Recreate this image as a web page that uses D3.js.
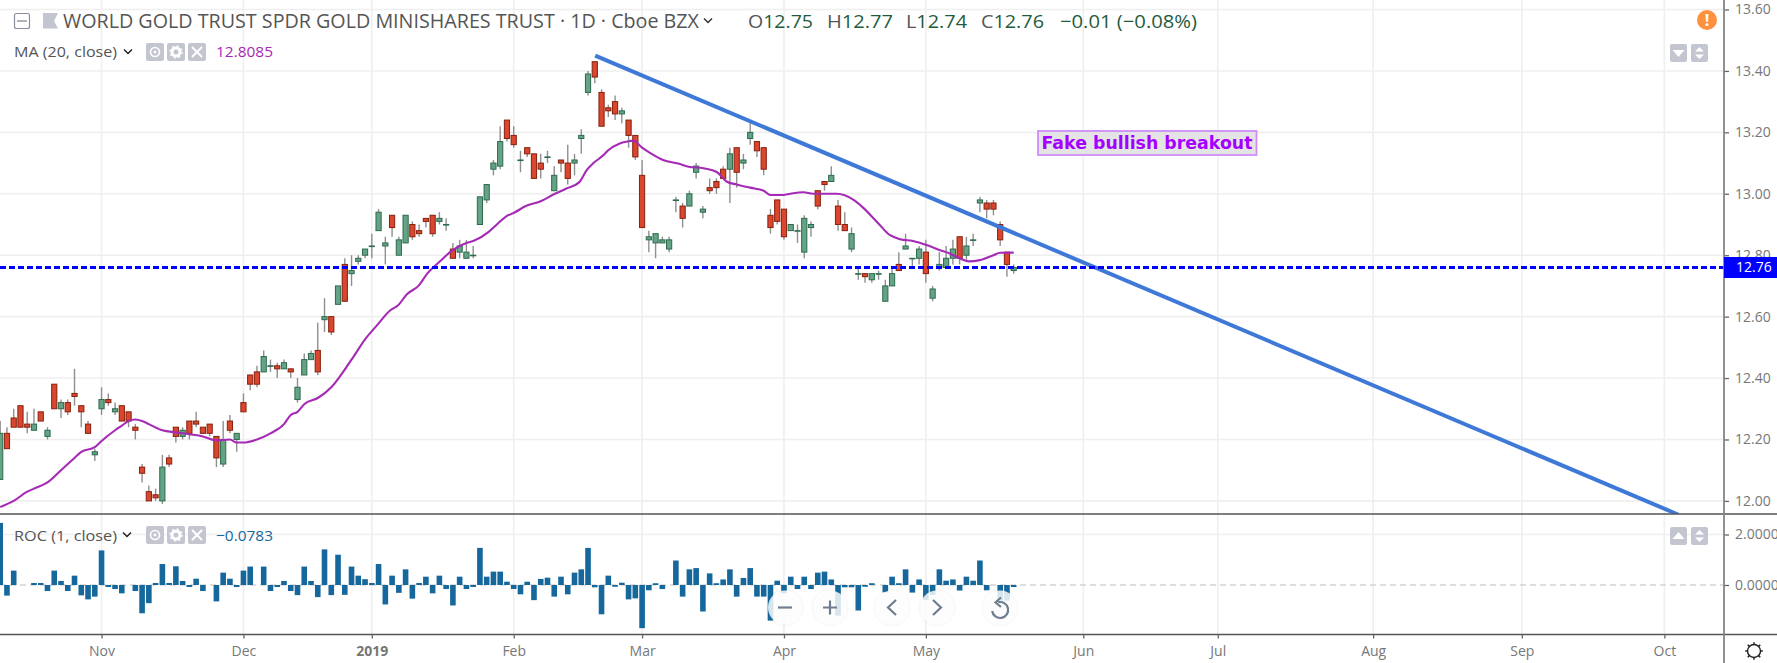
<!DOCTYPE html>
<html><head><meta charset="utf-8">
<script src="https://cdn.jsdelivr.net/npm/d3@7/dist/d3.min.js"></script>
<style>html,body{margin:0;background:#fff;overflow:hidden}svg{display:block}text{font-family:"Open Sans",sans-serif}</style>
</head><body><svg id="c" width="1777" height="663"></svg>
<script>
const opens=[12.07,12.22,12.27,12.31,12.25,12.23,12.29,12.21,12.38,12.30,12.32,12.35,12.31,12.25,12.15,12.30,12.33,12.29,12.31,12.29,12.24,12.11,12.03,12.02,12.00,12.14,12.24,12.21,12.26,12.26,12.24,12.25,12.21,12.12,12.26,12.20,12.32,12.41,12.42,12.42,12.44,12.44,12.43,12.43,12.33,12.41,12.46,12.49,12.59,12.60,12.64,12.77,12.74,12.78,12.80,12.83,12.88,12.83,12.93,12.80,12.84,12.90,12.88,12.92,12.93,12.91,12.90,12.82,12.81,12.79,12.80,12.90,12.98,13.08,13.09,13.24,13.19,13.11,13.15,13.13,13.10,13.12,13.01,13.11,13.10,13.10,13.18,13.33,13.43,13.33,13.28,13.30,13.26,13.24,13.19,13.06,12.85,12.84,12.84,12.82,12.98,12.96,12.96,13.07,12.94,13.02,13.04,13.08,13.08,13.15,13.10,13.18,13.17,13.15,12.93,12.98,12.95,12.88,12.88,12.81,12.89,13.01,13.04,13.04,12.96,12.90,12.82,12.74,12.74,12.72,12.74,12.65,12.70,12.77,12.82,12.79,12.79,12.81,12.66,12.76,12.76,12.79,12.86,12.80,12.85,12.97,12.97,12.97,12.90,12.81,12.75];
const highs=[12.26,12.24,12.30,12.31,12.29,12.30,12.29,12.24,12.38,12.33,12.33,12.43,12.31,12.26,12.17,12.37,12.35,12.32,12.31,12.29,12.25,12.12,12.05,12.04,12.15,12.15,12.24,12.24,12.26,12.29,12.24,12.25,12.21,12.26,12.28,12.22,12.35,12.41,12.44,12.49,12.46,12.45,12.46,12.43,12.40,12.48,12.49,12.58,12.66,12.60,12.70,12.79,12.80,12.80,12.82,12.87,12.95,12.86,12.93,12.86,12.93,12.91,12.90,12.92,12.93,12.94,12.92,12.84,12.85,12.85,12.83,12.99,13.03,13.11,13.22,13.24,13.22,13.14,13.15,13.13,13.13,13.14,13.09,13.11,13.16,13.13,13.21,13.40,13.43,13.34,13.29,13.32,13.28,13.24,13.19,13.11,12.88,12.87,12.86,12.86,12.99,12.97,13.01,13.10,12.96,13.05,13.05,13.09,13.15,13.15,13.13,13.23,13.17,13.15,12.95,12.98,12.95,12.90,12.90,12.93,12.91,13.01,13.04,13.09,12.98,12.94,12.89,12.76,12.74,12.74,12.75,12.72,12.76,12.81,12.87,12.79,12.83,12.85,12.70,12.81,12.83,12.85,12.86,12.86,12.87,12.99,12.98,12.98,12.91,12.81,12.77];
const lows=[12.07,12.17,12.24,12.24,12.22,12.23,12.26,12.20,12.30,12.27,12.28,12.31,12.24,12.22,12.13,12.28,12.31,12.28,12.26,12.24,12.20,12.06,12.00,12.00,11.99,12.11,12.19,12.20,12.20,12.24,12.22,12.21,12.11,12.11,12.22,12.16,12.29,12.36,12.37,12.42,12.42,12.40,12.43,12.40,12.32,12.41,12.46,12.41,12.55,12.54,12.64,12.65,12.70,12.77,12.79,12.79,12.88,12.77,12.86,12.80,12.84,12.85,12.86,12.89,12.86,12.90,12.88,12.79,12.79,12.79,12.79,12.90,12.97,13.06,13.08,13.17,13.15,13.07,13.12,13.05,13.05,13.10,13.01,13.07,13.03,13.06,13.13,13.32,13.36,13.22,13.25,13.24,13.23,13.15,13.11,12.89,12.81,12.79,12.84,12.81,12.94,12.89,12.96,13.05,12.92,13.00,13.00,13.05,12.97,13.02,13.08,13.16,13.12,13.06,12.87,12.90,12.85,12.88,12.84,12.79,12.86,12.95,13.01,13.04,12.88,12.88,12.81,12.72,12.71,12.71,12.72,12.65,12.70,12.75,12.82,12.76,12.77,12.71,12.65,12.75,12.76,12.77,12.77,12.78,12.83,12.94,12.92,12.93,12.83,12.73,12.74];
const closes=[12.22,12.17,12.24,12.24,12.24,12.25,12.26,12.23,12.30,12.32,12.29,12.34,12.29,12.22,12.16,12.33,12.32,12.30,12.26,12.26,12.23,12.09,12.00,12.01,12.11,12.12,12.21,12.23,12.22,12.25,12.22,12.22,12.14,12.20,12.23,12.22,12.29,12.38,12.38,12.47,12.44,12.43,12.45,12.42,12.37,12.46,12.48,12.42,12.60,12.55,12.70,12.65,12.75,12.79,12.82,12.83,12.94,12.84,12.89,12.85,12.93,12.86,12.87,12.91,12.87,12.92,12.90,12.79,12.83,12.81,12.80,12.99,13.03,13.10,13.17,13.18,13.16,13.11,13.13,13.05,13.08,13.12,13.06,13.10,13.05,13.11,13.19,13.39,13.38,13.22,13.27,13.26,13.27,13.19,13.12,12.89,12.86,12.87,12.85,12.85,12.98,12.92,13.00,13.09,12.95,13.01,13.02,13.05,13.13,13.07,13.11,13.20,13.14,13.08,12.89,12.91,12.86,12.90,12.88,12.92,12.90,12.96,13.03,13.06,12.90,12.88,12.87,12.74,12.73,12.74,12.74,12.70,12.74,12.75,12.83,12.79,12.82,12.74,12.69,12.77,12.79,12.82,12.79,12.83,12.85,12.98,12.95,12.95,12.85,12.77,12.76];
const rocValues=[2.46,-0.42,0.57,0,0,0.08,0.08,-0.24,0.57,0.16,-0.24,0.37,-0.41,-0.57,-0.46,1.37,-0.08,-0.16,-0.33,0,-0.24,-1.12,-0.72,0.08,0.83,0.08,0.74,0.16,-0.08,0.25,-0.24,0,-0.65,0.49,0.25,-0.08,0.57,0.73,0,0.73,-0.24,-0.08,0.16,-0.24,-0.40,0.73,0.16,-0.48,1.41,-0.40,1.2,-0.39,0.73,0.37,0.23,0.08,0.83,-0.77,0.37,-0.31,0.62,-0.54,0.08,0.33,-0.33,0.37,-0.16,-0.81,0.33,-0.16,-0.08,1.47,0.33,0.53,0.53,0.13,-0.16,-0.37,0.13,-0.60,0.24,0.29,-0.46,0.33,-0.37,0.49,0.62,1.47,-0.09,-1.16,0.37,-0.07,0.09,-0.57,-0.53,-1.71,-0.21,0.07,-0.16,0,0.97,-0.46,0.62,0.67,-1.05,0.46,0.07,0.22,0.62,-0.46,0.28,0.67,-0.46,-0.46,-1.41,0.17,-0.33,0.33,-0.16,0.33,-0.16,0.49,0.53,0.22,-1.21,-0.09,-0.09,-1.01,-0.07,0.07,0,-0.29,0.33,0.07,0.62,-0.30,0.22,-0.59,-0.39,0.62,0.17,0.22,-0.22,0.33,0.17,0.97,-0.21,0,-0.62,-0.62,-0.08];
const maBars=[0,2,4,5,7,9,11,12,14,15,17,18,19,20,21,22,24,26,28,30,32,34,35,36,38,40,42,43,44,45,47,49,50.3,52.3,54,55.7,57.7,58.9,60.2,61.9,63.2,65.1,66.9,69,70.1,72.3,73.5,74.8,76.2,77.8,79.9,82.1,83.8,85.8,86.8,87.8,89.3,89.9,91.7,92.8,93.7,95,96.4,98.1,100.6,101.9,104.1,106.1,107.5,109,111,113,114,115.9,116.9,118.9,120.3,123.8,126.3,127.7,129.7,131.7,133.2,135.1,137.1,139.1,140.6,142,143.3,145,147,148,150];
const maValues=[11.98,12.00,12.03,12.04,12.06,12.10,12.14,12.16,12.175,12.195,12.23,12.245,12.26,12.265,12.26,12.25,12.23,12.223,12.217,12.21,12.197,12.20,12.19,12.19,12.20,12.22,12.25,12.28,12.29,12.315,12.335,12.37,12.406,12.47,12.526,12.57,12.62,12.637,12.673,12.70,12.74,12.78,12.816,12.84,12.847,12.876,12.90,12.925,12.94,12.96,12.975,13.00,13.017,13.04,13.077,13.10,13.126,13.14,13.164,13.17,13.173,13.15,13.13,13.11,13.097,13.088,13.083,13.07,13.04,13.03,13.02,13.01,12.996,12.996,13.00,13.005,13.00,13.00,12.98,12.955,12.91,12.865,12.852,12.846,12.833,12.816,12.805,12.79,12.78,12.784,12.80,12.808,12.8085];
const priceTicks=[12.0,12.2,12.4,12.6,12.8,13.0,13.2,13.4,13.6];
const rocTicks=[0,2];
const timeBars=[15,36,55,76,95,116,137,160.3,180.2,203.2,225.2,246.3];
const timeLabels=["Nov","Dec","2019","Feb","Mar","Apr","May","Jun","Jul","Aug","Sep","Oct"];
const trendBars=[88.06,248.4];
const trendPrices=[13.45,11.955];
const lastPrice=12.76;
const chartTitle="WORLD GOLD TRUST SPDR GOLD MINISHARES TRUST · 1D · Cboe BZX";
const note="Fake bullish breakout";

const svg=d3.select("#c");
const x=d3.scaleLinear([0,150],[0.2,1013.7]);
const y=d3.scaleLinear([12,13.6],[500.9,9.5]);
const yR=d3.scaleLinear([0,2],[585,534.5]);
const AX=1724,PB=514,TB=634.5;
const defs=svg.append("defs");
defs.append("clipPath").attr("id","pc").append("rect").attr("width",AX).attr("height",PB);
defs.append("filter").attr("id","soft").append("feGaussianBlur").attr("stdDeviation",0.35);
defs.append("filter").attr("id","sh").attr("x","-30%").attr("y","-30%").attr("width","160%").attr("height","160%").append("feDropShadow").attr("dx",0).attr("dy",0).attr("stdDeviation",1.5).attr("flood-color","#000").attr("flood-opacity",0.12);

// grid
const g=svg.append("g").attr("stroke","#efefef").attr("stroke-width",1.6);
g.selectAll(".v").data(timeBars).join("line").attr("x1",d=>x(d)).attr("x2",d=>x(d)).attr("y1",0).attr("y2",TB);
g.selectAll(".h").data(priceTicks).join("line").attr("x1",0).attr("x2",AX).attr("y1",d=>y(d)).attr("y2",d=>y(d));
g.append("line").attr("x1",0).attr("x2",AX).attr("y1",yR(2)).attr("y2",yR(2));
svg.append("line").attr("x1",0).attr("x2",AX).attr("y1",yR(0)).attr("y2",yR(0)).attr("stroke","#d4d4d4").attr("stroke-width",1.5).attr("stroke-dasharray","6 4");

// candles
const idx=d3.range(closes.length);
const cg=svg.append("g").attr("clip-path","url(#pc)").append("g").attr("filter","url(#soft)");
const up=i=>closes[i]>=opens[i];
cg.selectAll(".w").data(idx).join("line").attr("x1",x).attr("x2",x).attr("y1",i=>y(highs[i])).attr("y2",i=>y(lows[i])).attr("stroke","#8f8f8f").attr("stroke-width",1.4);
cg.selectAll(".b").data(idx).join("rect")
 .attr("x",i=>x(i)-2.6).attr("width",5.2)
 .attr("y",i=>y(Math.max(opens[i],closes[i])))
 .attr("height",i=>Math.max(0.6,Math.abs(y(opens[i])-y(closes[i]))))
 .attr("fill",i=>up(i)?"#66a386":"#d9472f")
 .attr("stroke",i=>up(i)?"#2c6b4e":"#87200f").attr("stroke-width",1);

// MA
const pane=svg.append("g").attr("clip-path","url(#pc)");
pane.append("path").datum(maBars.map((b,i)=>[b,maValues[i]])).attr("fill","none").attr("stroke","#a52ab5").attr("stroke-width",2.1).attr("stroke-linejoin","round")
 .attr("d",d3.line().curve(d3.curveMonotoneX).x(d=>x(d[0])).y(d=>y(d[1])));
// trend line
pane.append("line").attr("x1",x(trendBars[0])).attr("x2",x(trendBars[1])).attr("y1",y(trendPrices[0])).attr("y2",y(trendPrices[1])).attr("stroke","#3f79d8").attr("stroke-width",4);
// last price line
pane.append("line").attr("x1",0).attr("x2",AX).attr("y1",y(lastPrice)).attr("y2",y(lastPrice)).attr("stroke","#0000ff").attr("stroke-width",3).attr("stroke-dasharray","6 3");

// ROC bars
svg.append("g").attr("filter","url(#soft)").selectAll("rect").data(idx).join("rect")
 .attr("x",i=>x(i)-2.8).attr("width",5.6)
 .attr("y",i=>Math.min(yR(0),yR(rocValues[i]))).attr("height",i=>Math.abs(yR(rocValues[i])-yR(0)))
 .attr("fill","#14689c");

// separators
svg.append("line").attr("x1",0).attr("x2",1777).attr("y1",PB).attr("y2",PB).attr("stroke","#555").attr("stroke-width",1.4);
svg.append("line").attr("x1",0).attr("x2",1777).attr("y1",TB).attr("y2",TB).attr("stroke","#555").attr("stroke-width",1.4);

// axes
function styleAxis(a){a.select(".domain").remove();a.selectAll("line").attr("stroke","#666").attr("stroke-width",1.3);a.selectAll("text").attr("fill","#777").attr("font-size",14).attr("font-family",'"Open Sans",sans-serif');}
svg.append("g").attr("transform",`translate(${AX},0)`).call(d3.axisRight(y).tickValues(priceTicks).tickSize(5).tickPadding(6).tickFormat(d3.format(".2f"))).call(styleAxis);
svg.append("g").attr("transform",`translate(${AX},0)`).call(d3.axisRight(yR).tickValues(rocTicks).tickSize(5).tickPadding(6).tickFormat(d3.format(".4f"))).call(styleAxis);
const tx=svg.append("g").attr("transform",`translate(0,${TB})`).call(d3.axisBottom(x).tickValues(timeBars).tickSize(4).tickPadding(8).tickFormat((d,i)=>timeLabels[i])).call(styleAxis);
tx.selectAll("text").attr("font-weight",(d,i)=>timeLabels[i]==="2019"?700:400);
svg.append("line").attr("x1",AX).attr("x2",AX).attr("y1",0).attr("y2",663).attr("stroke","#858585").attr("stroke-width",1.8);

// price tag
svg.append("rect").attr("x",AX).attr("y",y(lastPrice)-10.5).attr("width",53).attr("height",21).attr("fill","#0000ff");
svg.append("text").attr("x",1736).attr("y",y(lastPrice)+5).attr("fill","#fff").attr("font-size",14).text(d3.format(".2f")(lastPrice));

// annotation
svg.append("rect").attr("x",1038).attr("y",131).attr("width",218.5).attr("height",24).attr("fill","#e4e4e4").attr("stroke","#cf8dfb").attr("stroke-width",1.8);
svg.append("text").attr("x",1147).attr("y",149).attr("text-anchor","middle").attr("fill","#a400ff").attr("font-size",18).attr("font-weight",700).attr("textLength",211).attr("lengthAdjust","spacingAndGlyphs").attr("style",'font-family:"DejaVu Sans"').text(note);

// header
function txt(s,xp,yp,fs,col,tl){const t=svg.append("text").attr("x",xp).attr("y",yp).attr("font-size",fs).attr("fill",col).text(s);if(tl)t.attr("textLength",tl).attr("lengthAdjust","spacingAndGlyphs");return t;}
txt(chartTitle,63,28,20,"#555",636);
const G="#1f5c3e";
function ohlc(l,v,xp,w){const t=svg.append("text").attr("x",xp).attr("y",28).attr("font-size",19).attr("textLength",w).attr("lengthAdjust","spacingAndGlyphs");t.append("tspan").attr("fill","#555").text(l);t.append("tspan").attr("fill",G).text(v);}
ohlc("O","12.75",748,65);ohlc("H","12.77",827,66);ohlc("L","12.74",906,61);ohlc("C","12.76",981,63);
txt("−0.01 (−0.08%)",1060,28,19,G,137);
txt("MA (20, close)",14,57,15,"#555",103);
txt("12.8085",216,57,15,"#a52ab5",57);
txt("ROC (1, close)",14,541,15,"#555",103);
txt("−0.0783",216,541,15,"#14689c",57);

// icons
function chevron(cx,cy,col){svg.append("path").attr("d",`M${cx-4},${cy-2.5}L${cx},${cy+1.5}L${cx+4},${cy-2.5}`).attr("fill","none").attr("stroke",col).attr("stroke-width",1.5);}
chevron(128,52,"#222");chevron(127,535,"#222");chevron(708,21,"#333");
svg.append("rect").attr("x",14.5).attr("y",13.5).attr("width",15).attr("height",15).attr("rx",2).attr("fill","#fff").attr("stroke","#8a8f9e").attr("stroke-width",1.2);
svg.append("line").attr("x1",17).attr("x2",27).attr("y1",21).attr("y2",21).attr("stroke","#7a7f8e").attr("stroke-width",1.2);
svg.append("path").attr("d","M43,13H58L54,21L58,28.5H43Z").attr("fill","#c3c6d1");
function btns(cy,xs){xs.forEach((bx,k)=>{
 svg.append("rect").attr("x",bx).attr("y",cy-9).attr("width",18).attr("height",18).attr("rx",2).attr("fill","#c3c6d1");
 const cx=bx+9;
 if(k===0){svg.append("circle").attr("cx",cx).attr("cy",cy).attr("r",4.5).attr("fill","none").attr("stroke","#fff").attr("stroke-width",1.6);svg.append("circle").attr("cx",cx).attr("cy",cy).attr("r",1.4).attr("fill","#fff");}
 if(k===1){svg.append("circle").attr("cx",cx).attr("cy",cy).attr("r",4).attr("fill","none").attr("stroke","#fff").attr("stroke-width",3);svg.append("circle").attr("cx",cx).attr("cy",cy).attr("r",6).attr("fill","none").attr("stroke","#fff").attr("stroke-width",1.4).attr("stroke-dasharray","2 2.7");}
 if(k===2){svg.append("path").attr("d",`M${cx-5},${cy-5}L${cx+5},${cy+5}M${cx+5},${cy-5}L${cx-5},${cy+5}`).attr("stroke","#fff").attr("stroke-width",2);}
});}
btns(52,[146,167,188]);btns(535,[146,167,188]);
function rbtn(bx,cy,kind){svg.append("rect").attr("x",bx).attr("y",cy-9).attr("width",17).attr("height",18).attr("rx",2).attr("fill","#c3c6d1");const cx=bx+8.5;
 if(kind==="d")svg.append("path").attr("d",`M${cx-6},${cy-3}H${cx+6}L${cx},${cy+4}Z`).attr("fill","#fff");
 if(kind==="u")svg.append("path").attr("d",`M${cx-6},${cy+3}H${cx+6}L${cx},${cy-4}Z`).attr("fill","#fff");
 if(kind==="b")svg.append("path").attr("d",`M${cx-4.5},${cy-1.5}L${cx},${cy-6}L${cx+4.5},${cy-1.5}ZM${cx-4.5},${cy+1.5}L${cx},${cy+6}L${cx+4.5},${cy+1.5}Z`).attr("fill","#fff");}
rbtn(1670,53,"d");rbtn(1691,53,"b");rbtn(1670,536,"u");rbtn(1691,536,"b");
svg.append("circle").attr("cx",1707).attr("cy",20).attr("r",10).attr("fill","#ff9040");
svg.append("text").attr("x",1707).attr("y",26).attr("text-anchor","middle").attr("fill","#fff").attr("font-size",16).attr("font-weight",700).text("!");

// zoom controls
const zc=svg.append("g");
[785,830,892,937,1000].forEach(cx=>zc.append("circle").attr("cx",cx).attr("cy",607.5).attr("r",17).attr("fill","#fff").attr("fill-opacity",0.82).attr("filter","url(#sh)"));
const ic="#6f7d8e";
function ip(d){zc.append("path").attr("d",d).attr("fill","none").attr("stroke",ic).attr("stroke-width",2.2);}
ip("M778,607.5H792");ip("M823,607.5H837M830,600.5V614.5");ip("M896,600L888,607.5L896,615");ip("M933,600L941,607.5L933,615");
ip("M998,602.3A8,8 0 1 1 992.2,611");ip("M1001,597.5L995.5,602.5L1001,607");

// settings gear
const gear=svg.append("g").attr("transform","translate(1754,651)");
gear.append("circle").attr("r",6.5).attr("fill","#fff").attr("stroke","#222").attr("stroke-width",1.4);
d3.range(8).forEach(k=>{const a=k*Math.PI/4;gear.append("line").attr("x1",6.5*Math.cos(a)).attr("y1",6.5*Math.sin(a)).attr("x2",8.8*Math.cos(a)).attr("y2",8.8*Math.sin(a)).attr("stroke","#222").attr("stroke-width",1.5);});
</script></body></html>
